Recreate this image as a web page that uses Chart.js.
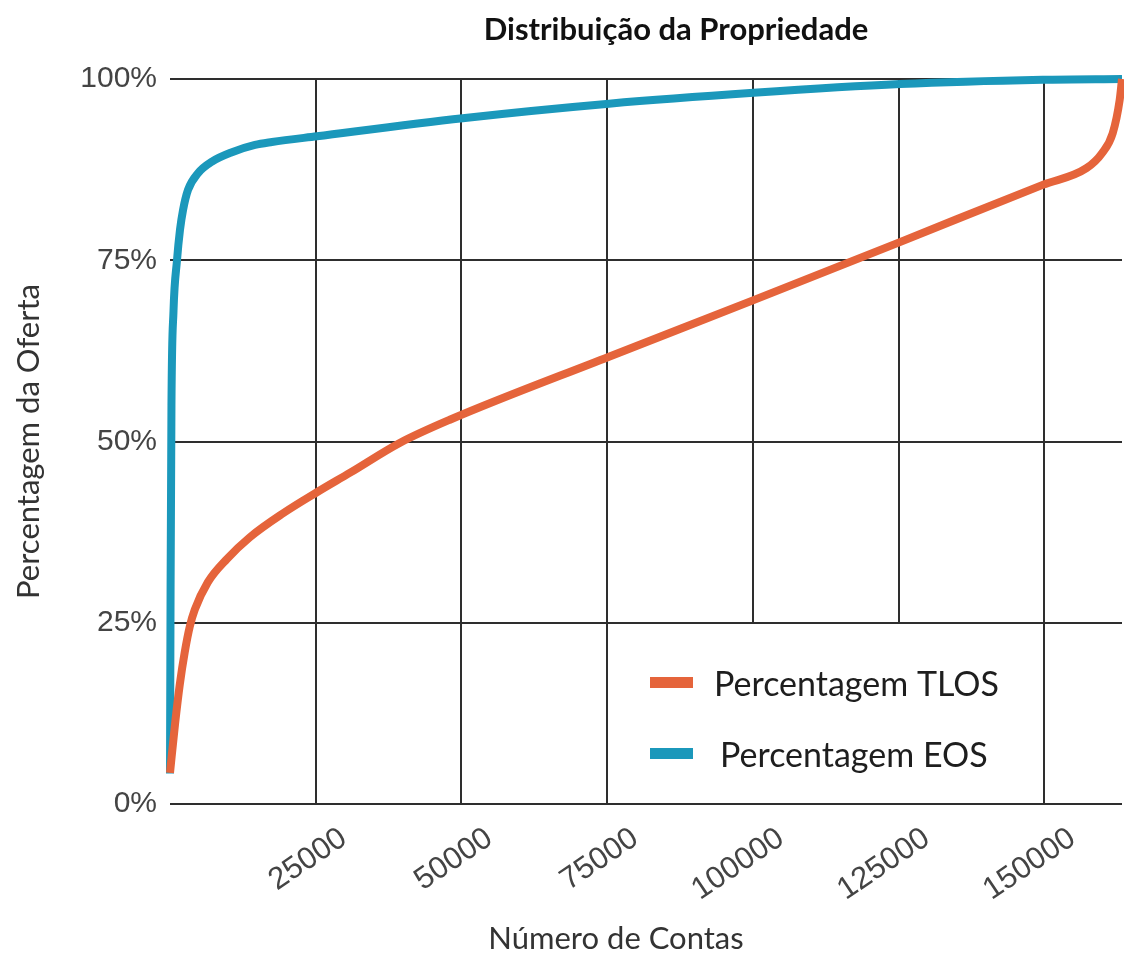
<!DOCTYPE html>
<html>
<head>
<meta charset="utf-8">
<script src="https://cdn.jsdelivr.net/npm/chart.js@4.4.1/dist/chart.umd.min.js"></script>
<style>
html,body{margin:0;padding:0;background:#ffffff;overflow:hidden}
#wrap{width:1124px;height:955px;position:relative}
</style>
</head>
<body>
<div id="wrap"><canvas id="c" width="1124" height="955"></canvas></div>
<script>
// ---- texts ----
const chartTitle = 'Distribuição da Propriedade';
const xAxisTitle = 'Número de Contas';
const yAxisTitle = 'Percentagem da Oferta';
const seriesLabels = ['Percentagem TLOS', 'Percentagem EOS'];

// ---- ticks ----
const xTickValues = [25000, 50000, 75000, 100000, 125000, 150000];
const yTickValues = [0, 25, 50, 75, 100];
const xMax = 163300;

// ---- series ----
const tlosAccounts = [0, 860, 1680, 2540, 3400, 4250, 6500, 9770, 13700, 19400, 25200, 30900, 39400, 48000, 75300, 100100, 125200, 149700, 157200, 159900, 161700, 162900, 163300];
const tlosPercent  = [4.3, 11.0, 16.5, 21.0, 24.5, 26.8, 30.6, 33.8, 36.8, 40.1, 43.0, 45.7, 49.8, 53.0, 61.7, 69.5, 77.5, 85.4, 87.7, 89.8, 92.5, 97.1, 100];

const eosAccounts = [0, 100, 250, 600, 1200, 1715, 2230, 3090, 4800, 7200, 10630, 14575, 17490, 25200, 50200, 75300, 100100, 125200, 149700, 163300];
const eosPercent  = [4.2, 30, 55, 68, 75.0, 79.2, 81.9, 84.7, 87.0, 88.6, 89.9, 90.9, 91.3, 92.1, 94.6, 96.6, 98.1, 99.3, 99.9, 100];

const seriesColors = ['#e5643b', '#1b98bb'];

function toPoints(xs, ys) { return xs.map((x, i) => ({ x: x, y: ys[i] })); }

const gridColor = '#2e2e2e';

const boxLegendPlugin = {
  id: 'boxLegend',
  afterDatasetsDraw(chart) {
    const ctx = chart.ctx;
    const xs = chart.scales.x, ys = chart.scales.y;
    const x1 = Math.round(xs.getPixelForValue(75000));
    const x2 = Math.round(xs.getPixelForValue(150000));
    const y1 = Math.round(ys.getPixelForValue(25));
    const y2 = Math.round(ys.getPixelForValue(0));
    ctx.save();
    ctx.fillStyle = '#ffffff';
    ctx.fillRect(x1 + 1, y1 + 1, x2 - x1 - 2, y2 - y1 - 2);
    const rows = [{ sy: y1 + 59, ty: y1 + 62, tx: x1 + 107 }, { sy: y1 + 130, ty: y1 + 133, tx: x1 + 113 }];
    chart.data.datasets.forEach((ds, i) => {
      const r = rows[i];
      ctx.fillStyle = ds.borderColor;
      ctx.fillRect(x1 + 43, r.sy - 5, 43, 11);
      ctx.fillStyle = '#1e1e1e';
      ctx.font = '34px Lato';
      ctx.textAlign = 'left';
      ctx.textBaseline = 'middle';
      ctx.fillText(ds.label, r.tx, r.ty);
    });
    ctx.restore();
  }
};

const textPlugin = {
  id: 'texts',
  afterDraw(chart) {
    const ctx = chart.ctx;
    const ca = chart.chartArea;
    ctx.save();
    ctx.fillStyle = '#111111';
    ctx.font = 'bold 31px Lato';
    ctx.textAlign = 'center';
    ctx.textBaseline = 'middle';
    ctx.fillText(chartTitle, 676, 30);
    ctx.fillStyle = '#333333';
    ctx.font = '31px Lato';
    ctx.fillText(xAxisTitle, (ca.left + ca.right) / 2 - 30, 939);
    ctx.restore();
  }
};

new Chart(document.getElementById('c'), {
  type: 'line',
  data: {
    datasets: [
      { label: seriesLabels[0], data: toPoints(tlosAccounts, tlosPercent), borderColor: seriesColors[0], backgroundColor: seriesColors[0], borderWidth: 8, pointRadius: 0, cubicInterpolationMode: 'monotone', fill: false, clip: 8 },
      { label: seriesLabels[1], data: toPoints(eosAccounts, eosPercent), borderColor: seriesColors[1], backgroundColor: seriesColors[1], borderWidth: 8, pointRadius: 0, cubicInterpolationMode: 'monotone', fill: false, clip: 8 }
    ]
  },
  options: {
    responsive: false,
    animation: false,
    devicePixelRatio: 1,
    layout: { padding: { top: 79, right: 2, bottom: 0, left: 0 } },
    plugins: {
      legend: { display: false },
      title: { display: false },
      tooltip: { enabled: false }
    },
    scales: {
      x: {
        type: 'linear',
        min: 0,
        max: xMax,
        afterBuildTicks: (s) => { s.ticks = xTickValues.map(v => ({ value: v })); },
        afterFit: (s) => { s.height = 151; },
        ticks: {
          autoSkip: false,
          minRotation: 34,
          maxRotation: 34,
          padding: 16,
          labelOffset: 28,
          color: '#444444',
          font: { family: 'Liberation Sans', size: 31 },
          callback: (v) => String(v)
        },
        grid: { color: gridColor, lineWidth: 2, drawTicks: false },
        border: { display: false }
      },
      y: {
        type: 'linear',
        min: 0,
        max: 100,
        afterBuildTicks: (s) => { s.ticks = yTickValues.map(v => ({ value: v })); },
        afterFit: (s) => { s.width = 170; },
        ticks: {
          padding: 13,
          color: '#444444',
          font: { family: 'Liberation Sans', size: 30 },
          callback: (v) => v + '%'
        },
        grid: { color: gridColor, lineWidth: 2, drawTicks: false },
        border: { display: false },
        title: {
          display: true,
          text: yAxisTitle,
          color: '#333333',
          font: { family: 'Lato', size: 31 },
          padding: { top: 10, bottom: 0 }
        }
      }
    }
  },
  plugins: [boxLegendPlugin, textPlugin]
});
</script>
</body>
</html>
